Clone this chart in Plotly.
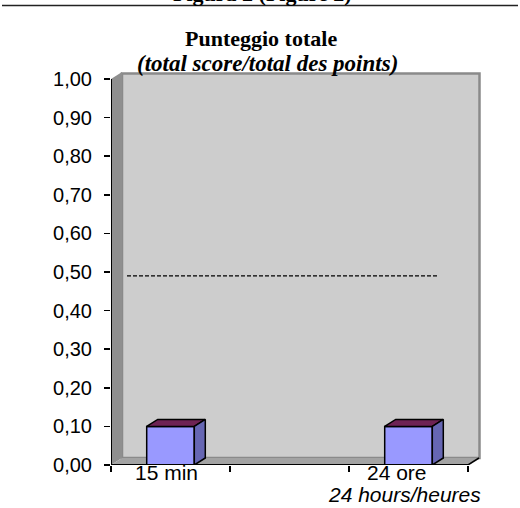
import plotly.graph_objects as go

# ---- data ----
categories = ["15 min", "", "24 ore"]
category_sublabels = ["", "", "24 hours/heures"]
values = [0.10, None, 0.10]
reference_value = 0.49
y_ticks = [0.0, 0.1, 0.2, 0.3, 0.4, 0.5, 0.6, 0.7, 0.8, 0.9, 1.0]
title_main = "Punteggio totale"
title_sub = "(total score/total des points)"
figure_caption = "Figura 2 (Figure 2)"

# ---- geometry (pixel layout) ----
W, H = 520, 508
L, R, T, B = 111, 481, 72, 465          # plot area in pixels
x_lo = -0.5
px_per_x = 119.0
x_hi = x_lo + (R - L) / px_per_x
px_per_y = 386.0
y_hi = (B - T) / px_per_y
DX = 11 / px_per_x                       # 3D depth offsets in data units
DY = 7 / px_per_y
bar_w = 0.4
n = len(categories)


def py2paper(py):
    return (B - py) / (B - T)


def px2paper(px):
    return (px - L) / (R - L)


fig = go.Figure()

# front faces of the bars
xs = list(range(n))
fig.add_trace(go.Bar(
    x=xs, y=values, width=bar_w,
    marker=dict(color="#9999ff", line=dict(color="black", width=1.5)),
    hoverinfo="skip", showlegend=False,
))

# top and side faces (3D effect) computed from values
for i, v in enumerate(values):
    if v is None:
        continue
    x0, x1 = i - bar_w / 2, i + bar_w / 2
    fig.add_trace(go.Scatter(
        x=[x0, x0 + DX, x1 + DX, x1, x0],
        y=[v, v + DY, v + DY, v, v],
        fill="toself", fillcolor="#6e2354", mode="lines",
        line=dict(color="black", width=1.5), hoverinfo="skip", showlegend=False,
    ))
    fig.add_trace(go.Scatter(
        x=[x1, x1, x1 + DX, x1 + DX, x1],
        y=[0, v, v + DY, DY, 0],
        fill="toself", fillcolor="#6666b3", mode="lines",
        line=dict(color="black", width=1.5), hoverinfo="skip", showlegend=False,
    ))

# dashed reference line
fig.add_trace(go.Scatter(
    x=[x_lo + 16 / px_per_x, x_lo + 327 / px_per_x],
    y=[reference_value, reference_value],
    mode="lines", line=dict(color="black", width=1.2, dash="4px,2px"),
    hoverinfo="skip", showlegend=False,
))

x_end = x_lo + n  # right end of the category axis
shapes = [
    # back wall
    dict(type="rect", xref="x", yref="y", x0=x_lo + DX, x1=x_hi - 1.5 / px_per_x,
         y0=DY, y1=y_hi - 1.5 / px_per_y,
         fillcolor="#cdcdcd", line=dict(color="#8a8a8a", width=2.5), layer="below"),
    # left side wall
    dict(type="path", xref="x", yref="y",
         path=f"M {x_lo},{0} L {x_lo},{1.0} L {x_lo + DX},{1.0 + DY} L {x_lo + DX},{DY} Z",
         fillcolor="#8f8f8f", line=dict(width=0), layer="below"),
    # floor
    dict(type="path", xref="x", yref="y",
         path=f"M {x_lo},{0} L {x_lo + DX},{DY} L {x_end + DX},{DY} L {x_end},{0} Z",
         fillcolor="#a3a3a3", line=dict(width=0), layer="below"),
    # axis lines
    dict(type="line", xref="x", yref="y", x0=x_lo, x1=x_lo, y0=0, y1=1.0,
         line=dict(color="black", width=2), layer="above"),
    dict(type="line", xref="x", yref="y", x0=x_lo, x1=x_end, y0=0, y1=0,
         line=dict(color="black", width=2), layer="above"),
    dict(type="line", xref="x", yref="y", x0=x_end, x1=x_end + DX, y0=0, y1=DY,
         line=dict(color="black", width=1.5), layer="above"),
    # rule at the top of the page
    dict(type="line", xref="paper", yref="paper",
         x0=px2paper(2), x1=px2paper(518), y0=py2paper(5.5), y1=py2paper(5.5),
         line=dict(color="#222222", width=1.5)),
]

annotations = []
# titles / caption
annotations.append(dict(
    x=px2paper(262), xref="paper", y=py2paper(-6.5), yref="paper",
    text=f"<b>{figure_caption}</b>", showarrow=False, xanchor="center", yanchor="middle",
    font=dict(family="Liberation Serif", size=22, color="black")))
annotations.append(dict(
    x=px2paper(260.5), xref="paper", y=py2paper(38), yref="paper",
    text=f"<b>{title_main}</b>", showarrow=False, xanchor="center", yanchor="middle",
    font=dict(family="Liberation Serif", size=22, color="black")))
annotations.append(dict(
    x=px2paper(267), xref="paper", y=py2paper(63), yref="paper",
    text=f"<b><i>{title_sub}</i></b>", showarrow=False, xanchor="center", yanchor="middle",
    font=dict(family="Liberation Serif", size=23, color="black")))

# category labels
label_shift = [-4, 0, -12]
sub_shift = [0, 0, -4]
for i, (c, s) in enumerate(zip(categories, category_sublabels)):
    if c:
        annotations.append(dict(
            x=i, xref="x", y=py2paper(472), yref="paper", text=c, showarrow=False,
            xshift=label_shift[i], xanchor="center", yanchor="middle",
            font=dict(family="Liberation Sans", size=21, color="black")))
    if s:
        annotations.append(dict(
            x=i, xref="x", y=py2paper(494), yref="paper", text=f"<i>{s}</i>",
            showarrow=False, xshift=sub_shift[i], xanchor="center", yanchor="middle",
            font=dict(family="Liberation Sans", size=21, color="black")))

fig.update_layout(
    width=W, height=H, autosize=False,
    margin=dict(l=L, r=W - R, t=T, b=H - B, pad=0),
    paper_bgcolor="white", plot_bgcolor="rgba(0,0,0,0)",
    separators=",.",
    shapes=shapes, annotations=annotations,
    showlegend=False, bargap=0,
    xaxis=dict(range=[x_lo, x_hi], tickmode="array",
               tickvals=[x_lo + k for k in range(n + 1)],
               ticktext=[""] * (n + 1), ticks="outside", ticklen=6,
               tickwidth=1.5, tickcolor="black", showgrid=False,
               zeroline=False, showline=False, fixedrange=True),
    yaxis=dict(range=[0, y_hi], tickmode="array", tickvals=y_ticks,
               tickformat=".2f", ticks="outside", ticklen=6, tickwidth=1.5,
               tickcolor="black", showgrid=False, zeroline=False, showline=False,
               ticklabelstandoff=8,
               tickfont=dict(family="Liberation Sans", size=20, color="black"),
               fixedrange=True),
)

fig.write_html(
    "out.html",
    config={"displayModeBar": False, "staticPlot": True},
    post_script="document.body.style.margin='0';document.body.style.overflow='hidden';",
)
